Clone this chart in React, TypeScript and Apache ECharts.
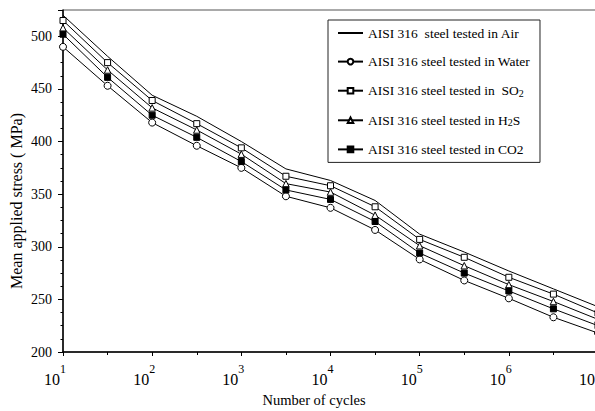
import React, { useEffect, useRef } from "react";
import * as echarts from "echarts";

// log10(number of cycles)
const cycleExponents = [1, 1.5, 2, 2.5, 3, 3.5, 4, 4.5, 5, 5.5, 6, 6.5, 7];

const seriesNames = [
  "AISI 316  steel tested in Air",
  "AISI 316 steel tested in Water",
  "AISI 316 steel tested in  SO2",
  "AISI 316 steel tested in H2S",
  "AISI 316 steel tested in CO2",
];

// Mean applied stress (MPa)
const airStress = [520, 481, 444, 424, 400, 374, 363, 344, 312, 295, 277, 260, 243];
const waterStress = [490, 453, 418, 396, 375, 348, 337, 316, 288, 268, 251, 233, 218];
const so2Stress = [515, 475, 439, 417, 394, 367, 358, 338, 307, 290, 271, 255, 237];
const h2sStress = [508, 468, 432, 411, 388, 360, 352, 330, 301, 282, 264, 248, 231];
const co2Stress = [502, 461, 425, 404, 381, 354, 345, 324, 294, 275, 258, 241, 225];

const legendRich: Record<string, string> = {
  [seriesNames[0]]: "{t|AISI 316  steel tested in Air}",
  [seriesNames[1]]: "{t|AISI 316 steel tested in Water}",
  [seriesNames[2]]: "{t|AISI 316 steel tested in  SO}{s|2}",
  [seriesNames[3]]: "{t|AISI 316 steel tested in H}{s|2}{t|S}",
  [seriesNames[4]]: "{t|AISI 316 steel tested in CO2}",
};

const FONT = "'Liberation Serif', 'Times New Roman', serif";

export default function App() {
  const ref = useRef<HTMLDivElement>(null);

  useEffect(() => {
    if (!ref.current) return;
    const chart = echarts.init(ref.current, undefined, { renderer: "svg" });

    const mk = (
      name: string,
      values: number[],
      symbol: string,
      size: number,
      fill: string
    ) => ({
      name,
      type: "line",
      data: cycleExponents.map((x, i) => [x, values[i]]),
      symbol,
      symbolSize: size,
      lineStyle: { color: "#000", width: 1 },
      itemStyle: { color: fill, borderColor: "#000", borderWidth: 1 },
      emphasis: { disabled: true },
      z: 3,
    });

    chart.setOption({
      animation: false,
      backgroundColor: "#fff",
      grid: {
        left: 63,
        top: 10,
        right: -3,
        bottom: 59,
        show: true,
        borderColor: "#555",
        borderWidth: 1,
        containLabel: false,
        outerBoundsMode: "none",
      },
      xAxis: {
        type: "value",
        min: 1,
        max: 7,
        interval: 1,
        axisLine: { show: true, onZero: false, lineStyle: { color: "#000", width: 1.5 } },
        axisTick: { show: true, inside: false, length: 4, lineStyle: { color: "#000", width: 1 } },
        minorTick: { show: true, splitNumber: 2, length: 3, lineStyle: { color: "#000", width: 1 } },
        splitLine: { show: false },
        minorSplitLine: { show: false },
        axisLabel: {
          margin: 11,
          color: "#000",
          formatter: (v: number) => `{b|10}{s|${v}}{g| }`,
          rich: {
            b: { fontSize: 16, fontFamily: FONT, color: "#000" },
            s: { fontSize: 12, fontFamily: FONT, color: "#000", padding: [0, 0, 21, 0] },
            g: { fontSize: 12, width: 16 },
          },
        },
      },
      yAxis: {
        type: "value",
        min: 200,
        max: 525,
        interval: 50,
        axisLine: { show: true, onZero: false, lineStyle: { color: "#000", width: 1.5 } },
        axisTick: { show: true, inside: false, length: 5, lineStyle: { color: "#000", width: 1 } },
        minorTick: { show: true, splitNumber: 4, length: 2.5, lineStyle: { color: "#000", width: 1 } },
        splitLine: { show: false },
        minorSplitLine: { show: false },
        axisLabel: {
          margin: 11,
          fontSize: 14,
          fontFamily: FONT,
          color: "#000",
          formatter: (v: number) => (v > 500 ? "" : String(v)),
        },
      },
      legend: {
        orient: "vertical",
        left: 328,
        top: 20,
        padding: [6, 10, 6, 9],
        itemWidth: 25,
        itemHeight: 7,
        itemGap: 14.6,
        borderColor: "#222",
        borderWidth: 1,
        backgroundColor: "#fff",
        selectedMode: false,
        formatter: (name: string) => legendRich[name] || name,
        textStyle: {
          fontFamily: FONT,
          fontSize: 13.5,
          color: "#000",
          rich: {
            t: { fontFamily: FONT, fontSize: 13.5, color: "#000", lineHeight: 16 },
            s: { fontFamily: FONT, fontSize: 10, color: "#000", lineHeight: 10, padding: [5, 0, 0, 0] },
          },
        },
        data: [
          { name: seriesNames[0], itemStyle: { opacity: 0 } },
          { name: seriesNames[1] },
          { name: seriesNames[2] },
          { name: seriesNames[3] },
          { name: seriesNames[4] },
        ],
      },
      graphic: [
        {
          type: "text",
          x: 314,
          y: 400,
          style: {
            text: "Number of cycles",
            font: `14.5px ${FONT}`,
            fill: "#000",
            align: "center",
            verticalAlign: "middle",
          },
        },
        {
          type: "text",
          x: 16,
          y: 201,
          rotation: Math.PI / 2,
          style: {
            text: "Mean applied stress ( MPa)",
            font: `16px ${FONT}`,
            fill: "#000",
            align: "center",
            verticalAlign: "middle",
          },
        },
      ],
      series: [
        { ...mk(seriesNames[0], airStress, "none", 0, "#000") },
        mk(seriesNames[1], waterStress, "circle", 7, "#fff"),
        mk(seriesNames[2], so2Stress, "rect", 6, "#fff"),
        mk(seriesNames[3], h2sStress, "triangle", 6.5, "#fff"),
        mk(seriesNames[4], co2Stress, "rect", 6, "#000"),
      ],
    });

    return () => chart.dispose();
  }, []);

  return (
    <div
      ref={ref}
      style={{ position: "absolute", left: 0, top: 0, width: 595, height: 411 }}
    />
  );
}
